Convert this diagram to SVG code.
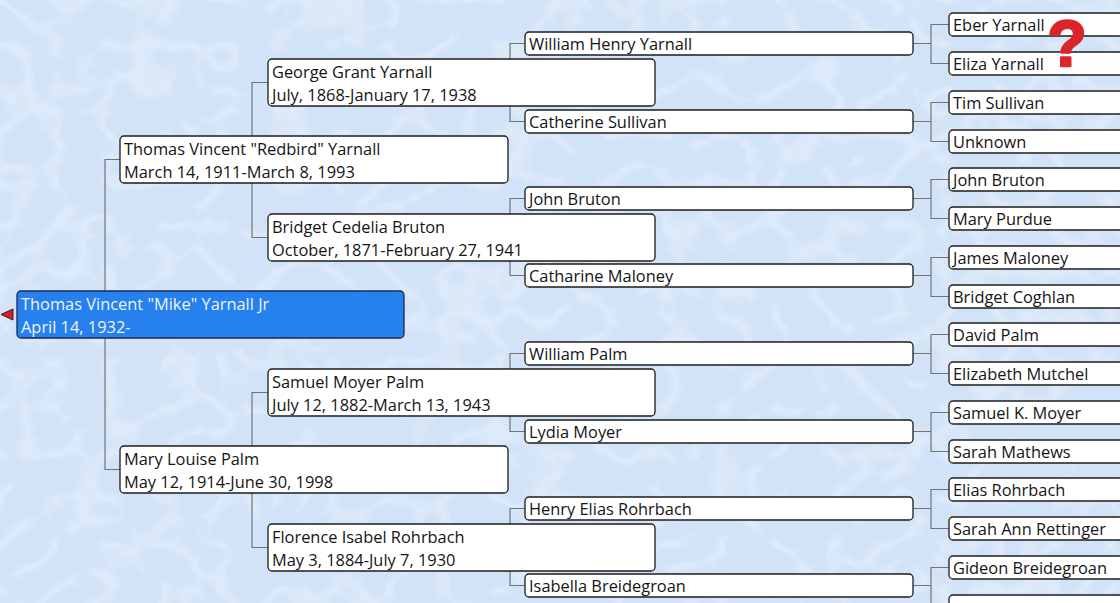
<svg xmlns="http://www.w3.org/2000/svg" width="1120" height="603" viewBox="0 0 1120 603">
<defs>
<filter id="tex" x="0" y="0" width="100%" height="100%">
<feTurbulence type="turbulence" baseFrequency="0.018 0.022" numOctaves="2" seed="7" result="n"/>
<feColorMatrix in="n" type="matrix" values="0 0 0 0 1  0 0 0 0 1  0 0 0 0 1  0 0 0 -2.2 0.55" />
</filter>
<style>
.box{fill:#ffffff;stroke:#1c1c1c;stroke-width:1.3}
.sel{fill:#2680ee;stroke:#1a2a55;stroke-width:1.3}
.t{font-family:"Open Sans","Noto Sans","DejaVu Sans",sans-serif;font-size:16.4px;fill:#151515}
.tw{fill:#eef4ff}
.c{fill:none;stroke:#747474;stroke-width:1.2}
</style>
</defs>
<rect width="1120" height="603" fill="#d2e3f7"/>
<rect width="1120" height="603" filter="url(#tex)" opacity="0.55"/>
<g id="connectors">
<path class="c" d="M120,159.5 H105 V469.5 H120"/>
<path class="c" d="M268,82.5 H252 V237.5 H268"/>
<path class="c" d="M268,392.5 H252 V547.5 H268"/>
<path class="c" d="M525,43.5 H510 V121.5 H525"/>
<path class="c" d="M525,198.5 H510 V275.5 H525"/>
<path class="c" d="M525,353.5 H510 V431.5 H525"/>
<path class="c" d="M525,508.5 H510 V585.5 H525"/>
<path class="c" d="M913,43.5 H931 M949,24.5 H931 V63.5 H949"/>
<path class="c" d="M913,121.5 H931 M949,102.5 H931 V141.5 H949"/>
<path class="c" d="M913,198.5 H931 M949,179.5 H931 V218.5 H949"/>
<path class="c" d="M913,275.5 H931 M949,257.5 H931 V296.5 H949"/>
<path class="c" d="M913,353.5 H931 M949,334.5 H931 V373.5 H949"/>
<path class="c" d="M913,431.5 H931 M949,412.5 H931 V451.5 H949"/>
<path class="c" d="M913,508.5 H931 M949,489.5 H931 V528.5 H949"/>
<path class="c" d="M913,585.5 H931 M949,567.5 H931 V606.5 H949"/>
</g>
<g id="root">
<polygon points="1,314.5 13,309 13,320" fill="#c4262a" stroke="#5a1010" stroke-width="1"/>
<rect class="sel" x="17" y="291" width="387" height="47" rx="4"/>
<text class="t tw" x="21" y="310">Thomas Vincent "Mike" Yarnall Jr</text>
<text class="t tw" x="21" y="333">April 14, 1932-</text>
</g>
<g id="p1">
<rect class="box" x="120" y="136" width="388" height="47" rx="4"/>
<text class="t" x="124" y="155">Thomas Vincent "Redbird" Yarnall</text>
<text class="t" x="124" y="178">March 14, 1911-March 8, 1993</text>
</g>
<g id="p2">
<rect class="box" x="120" y="446" width="388" height="47" rx="4"/>
<text class="t" x="124" y="465">Mary Louise Palm</text>
<text class="t" x="124" y="488">May 12, 1914-June 30, 1998</text>
</g>
<g id="gp1">
<rect class="box" x="268" y="59" width="387" height="47" rx="4"/>
<text class="t" x="272" y="78">George Grant Yarnall</text>
<text class="t" x="272" y="101">July, 1868-January 17, 1938</text>
</g>
<g id="gp2">
<rect class="box" x="268" y="214" width="387" height="47" rx="4"/>
<text class="t" x="272" y="233">Bridget Cedelia Bruton</text>
<text class="t" x="272" y="256">October, 1871-February 27, 1941</text>
</g>
<g id="gp3">
<rect class="box" x="268" y="369" width="387" height="47" rx="4"/>
<text class="t" x="272" y="388">Samuel Moyer Palm</text>
<text class="t" x="272" y="411">July 12, 1882-March 13, 1943</text>
</g>
<g id="gp4">
<rect class="box" x="268" y="524" width="387" height="47" rx="4"/>
<text class="t" x="272" y="543">Florence Isabel Rohrbach</text>
<text class="t" x="272" y="566">May 3, 1884-July 7, 1930</text>
</g>
<g id="g3-1"><rect class="box" x="525" y="32" width="388" height="23" rx="4"/><text class="t" x="529" y="50">William Henry Yarnall</text></g>
<g id="g3-2"><rect class="box" x="525" y="110" width="388" height="23" rx="4"/><text class="t" x="529" y="128">Catherine Sullivan</text></g>
<g id="g3-3"><rect class="box" x="525" y="187" width="388" height="23" rx="4"/><text class="t" x="529" y="205">John Bruton</text></g>
<g id="g3-4"><rect class="box" x="525" y="264" width="388" height="23" rx="4"/><text class="t" x="529" y="282">Catharine Maloney</text></g>
<g id="g3-5"><rect class="box" x="525" y="342" width="388" height="23" rx="4"/><text class="t" x="529" y="360">William Palm</text></g>
<g id="g3-6"><rect class="box" x="525" y="420" width="388" height="23" rx="4"/><text class="t" x="529" y="438">Lydia Moyer</text></g>
<g id="g3-7"><rect class="box" x="525" y="497" width="388" height="23" rx="4"/><text class="t" x="529" y="515">Henry Elias Rohrbach</text></g>
<g id="g3-8"><rect class="box" x="525" y="574" width="388" height="23" rx="4"/><text class="t" x="529" y="592">Isabella Breidegroan</text></g>
<g id="g4-1"><rect class="box" x="949" y="13" width="200" height="23" rx="4"/><text class="t" x="953" y="31">Eber Yarnall</text></g>
<g id="g4-2"><rect class="box" x="949" y="52" width="200" height="23" rx="4"/><text class="t" x="953" y="70">Eliza Yarnall</text></g>
<g id="g4-3"><rect class="box" x="949" y="91" width="200" height="23" rx="4"/><text class="t" x="953" y="109">Tim Sullivan</text></g>
<g id="g4-4"><rect class="box" x="949" y="130" width="200" height="23" rx="4"/><text class="t" x="953" y="148">Unknown</text></g>
<g id="g4-5"><rect class="box" x="949" y="168" width="200" height="23" rx="4"/><text class="t" x="953" y="186">John Bruton</text></g>
<g id="g4-6"><rect class="box" x="949" y="207" width="200" height="23" rx="4"/><text class="t" x="953" y="225">Mary Purdue</text></g>
<g id="g4-7"><rect class="box" x="949" y="246" width="200" height="23" rx="4"/><text class="t" x="953" y="264">James Maloney</text></g>
<g id="g4-8"><rect class="box" x="949" y="285" width="200" height="23" rx="4"/><text class="t" x="953" y="303">Bridget Coghlan</text></g>
<g id="g4-9"><rect class="box" x="949" y="323" width="200" height="23" rx="4"/><text class="t" x="953" y="341">David Palm</text></g>
<g id="g4-10"><rect class="box" x="949" y="362" width="200" height="23" rx="4"/><text class="t" x="953" y="380">Elizabeth Mutchel</text></g>
<g id="g4-11"><rect class="box" x="949" y="401" width="200" height="23" rx="4"/><text class="t" x="953" y="419">Samuel K. Moyer</text></g>
<g id="g4-12"><rect class="box" x="949" y="440" width="200" height="23" rx="4"/><text class="t" x="953" y="458">Sarah Mathews</text></g>
<g id="g4-13"><rect class="box" x="949" y="478" width="200" height="23" rx="4"/><text class="t" x="953" y="496">Elias Rohrbach</text></g>
<g id="g4-14"><rect class="box" x="949" y="517" width="200" height="23" rx="4"/><text class="t" x="953" y="535">Sarah Ann Rettinger</text></g>
<g id="g4-15"><rect class="box" x="949" y="556" width="200" height="23" rx="4"/><text class="t" x="953" y="574">Gideon Breidegroan</text></g>
<g id="g4-16"><rect class="box" x="949" y="595" width="200" height="23" rx="4"/></g>
<text id="question" x="1067" y="66" text-anchor="middle" font-family="Liberation Sans, Arial, sans-serif" font-weight="bold" font-size="64" fill="#dc252b" stroke="#dc252b" stroke-width="2.5" stroke-linejoin="round">?</text>
</svg>
